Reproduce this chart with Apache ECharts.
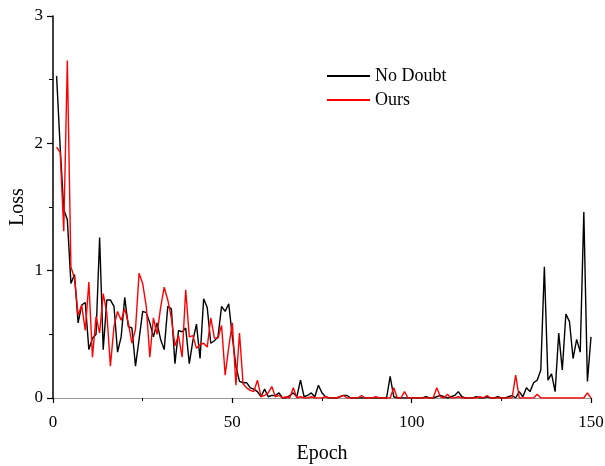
<!DOCTYPE html>
<html>
<head>
<meta charset="utf-8">
<script src="https://cdn.jsdelivr.net/npm/echarts@6/dist/echarts.min.js"></script>
<style>html,body{margin:0;padding:0;background:#fff}#c{width:605px;height:466px}</style>
</head>
<body>
<div id="c"></div>
<script>
// Epochs 1..150
const epochs = Array.from({length:150}, (_, i) => i + 1);
const xTicks = [0, 50, 100, 150];
const yTicks = [0, 1, 2, 3];
const seriesNames = ['No Doubt', 'Ours'];

const noDoubt = [
 2.53,1.97,1.48,1.40,0.90,0.97,0.59,0.73,0.75,0.38,
 0.47,0.50,1.26,0.38,0.77,0.77,0.72,0.36,0.48,0.79,
 0.56,0.55,0.25,0.46,0.68,0.67,0.59,0.48,0.59,0.46,
 0.38,0.72,0.70,0.27,0.53,0.52,0.55,0.27,0.45,0.58,
 0.31,0.78,0.71,0.43,0.45,0.48,0.72,0.68,0.74,0.48,
 0.25,0.13,0.12,0.12,0.08,0.07,0.05,0.01,0.07,0.01,
 0.02,0.02,0.04,0.00,0.00,0.02,0.04,0.01,0.14,0.01,
 0.02,0.04,0.01,0.10,0.04,0.01,0.00,0.00,0.00,0.01,
 0.02,0.02,0.00,0.00,0.00,0.00,0.00,0.00,0.00,0.00,
 0.00,0.00,0.00,0.17,0.01,0.00,0.00,0.00,0.00,0.00,
 0.00,0.00,0.00,0.01,0.00,0.00,0.01,0.02,0.01,0.00,
 0.01,0.02,0.05,0.01,0.00,0.00,0.00,0.01,0.00,0.00,
 0.01,0.00,0.00,0.01,0.00,0.00,0.01,0.02,0.00,0.05,
 0.01,0.08,0.05,0.12,0.14,0.22,1.03,0.14,0.19,0.05,
 0.51,0.22,0.66,0.60,0.31,0.46,0.36,1.46,0.13,0.48
];

const ours = [
 1.97,1.93,1.31,2.65,1.03,0.94,0.65,0.73,0.53,0.91,
 0.32,0.64,0.51,0.82,0.67,0.25,0.56,0.68,0.61,0.70,
 0.59,0.43,0.54,0.98,0.90,0.72,0.32,0.63,0.50,0.71,
 0.87,0.77,0.63,0.41,0.49,0.32,0.85,0.48,0.49,0.39,
 0.42,0.43,0.40,0.63,0.47,0.47,0.57,0.18,0.40,0.59,
 0.10,0.51,0.11,0.08,0.06,0.05,0.14,0.01,0.02,0.04,
 0.09,0.01,0.02,0.00,0.01,0.00,0.08,0.00,0.01,0.00,
 0.00,0.01,0.00,0.00,0.00,0.01,0.00,0.00,0.00,0.01,
 0.02,0.00,0.00,0.00,0.00,0.02,0.00,0.00,0.00,0.01,
 0.00,0.00,0.00,0.00,0.08,0.00,0.00,0.05,0.00,0.00,
 0.00,0.00,0.00,0.00,0.00,0.00,0.08,0.01,0.00,0.03,
 0.00,0.00,0.01,0.00,0.00,0.00,0.00,0.00,0.01,0.00,
 0.02,0.00,0.00,0.00,0.00,0.00,0.00,0.00,0.18,0.00,
 0.00,0.00,0.00,0.00,0.03,0.00,0.00,0.00,0.00,0.00,
 0.00,0.00,0.00,0.00,0.00,0.00,0.00,0.00,0.04,0.00
];

const FONT = '"Liberation Serif", "Times New Roman", serif';
const chart = echarts.init(document.getElementById('c'), null, {renderer: 'canvas'});
chart.setOption({
  backgroundColor: '#fff',
  animation: false,
  grid: {left: 53, right: 14, top: 16, bottom: 68, containLabel: false, outerBoundsMode: 'none'},
  legend: {
    orient: 'vertical', left: 322, top: 62, itemGap: 6,
    itemWidth: 43, itemHeight: 2, icon: 'rect',
    textStyle: {fontFamily: FONT, fontSize: 18, color: '#000', padding: [0, 0, 0, 0]},
    data: seriesNames
  },
  xAxis: {
    type: 'value', min: xTicks[0], max: xTicks[xTicks.length - 1], interval: 50,
    name: 'Epoch', nameLocation: 'middle', nameGap: 46, nameMoveOverlap: false,
    nameTextStyle: {fontFamily: FONT, fontSize: 20, color: '#000'},
    axisLine: {show: true, lineStyle: {color: '#999', width: 1.2}},
    axisTick: {show: true, inside: false, length: 5, lineStyle: {color: '#000', width: 1.2}},
    minorTick: {show: true, splitNumber: 2, length: 3, lineStyle: {color: '#000', width: 1}},
    axisLabel: {fontFamily: FONT, fontSize: 17, color: '#000', margin: 16},
    splitLine: {show: false}
  },
  yAxis: {
    type: 'value', min: yTicks[0], max: yTicks[yTicks.length - 1], interval: 1,
    name: 'Loss', nameLocation: 'middle', nameGap: 25, nameRotate: 90, nameMoveOverlap: false,
    nameTextStyle: {fontFamily: FONT, fontSize: 20, color: '#000'},
    axisLine: {show: true, lineStyle: {color: '#000', width: 1.5}},
    axisTick: {show: true, inside: false, length: 6, lineStyle: {color: '#000', width: 1.2}},
    minorTick: {show: true, splitNumber: 2, length: 4, lineStyle: {color: '#000', width: 1}},
    axisLabel: {fontFamily: FONT, fontSize: 17, color: '#000', margin: 10},
    splitLine: {show: false}
  },
  series: [
    {
      name: seriesNames[0], type: 'line', symbol: 'none', showSymbol: false,
      data: epochs.map((e, i) => [e, noDoubt[i]]),
      lineStyle: {color: '#000', width: 1.4}, itemStyle: {color: '#000'}, z: 2
    },
    {
      name: seriesNames[1], type: 'line', symbol: 'none', showSymbol: false,
      data: epochs.map((e, i) => [e, ours[i]]),
      lineStyle: {color: '#ff0000', width: 1.4}, itemStyle: {color: '#ff0000'}, z: 3
    }
  ]
});
</script>
</body>
</html>
